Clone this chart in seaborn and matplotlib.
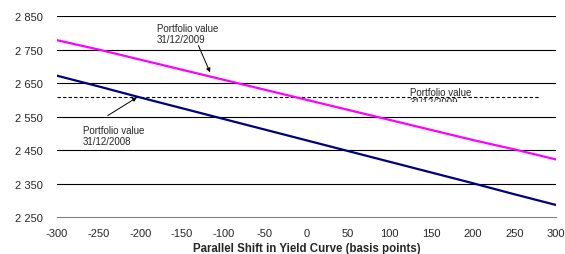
import numpy as np
import pandas as pd
import matplotlib
matplotlib.use('Agg')
import matplotlib.pyplot as plt
import matplotlib.patches as mpatches
import seaborn as sns

# Parallel shift (bp) and portfolio values
shift_bp = [-300, -250, -200, -150, -100, -50, 0, 50, 100, 150, 200, 250, 300]
value_2009 = [2778, 2750, 2720, 2690, 2660, 2630, 2600, 2570, 2540, 2510, 2480, 2452, 2422]
value_2008 = [2672, 2640, 2607, 2575, 2543, 2511, 2479, 2447, 2415, 2383, 2351, 2318, 2286]
ref_value = 2607
y_ticks = [2250, 2350, 2450, 2550, 2650, 2750, 2850]
x_ticks = [-300, -250, -200, -150, -100, -50, 0, 50, 100, 150, 200, 250, 300]

df = pd.DataFrame({'shift': shift_bp, 'v2009': value_2009, 'v2008': value_2008})

sns.set_style('white')
plt.rcParams['font.family'] = ['Liberation Sans', 'DejaVu Sans']

fig = plt.figure(figsize=(5.65, 2.55), dpi=100)
ax = fig.add_axes([0.101, 0.145, 0.883, 0.788])

# horizontal gridlines
for yv in y_ticks[1:]:
    ax.axhline(yv, color='black', lw=0.8, zorder=1)

ax.hlines(ref_value, -300, 280, colors='black', linestyles=(0, (3, 2)), lw=0.8, zorder=2)

sns.lineplot(data=df, x='shift', y='v2009', color='#ff00ff', lw=1.6, ax=ax, zorder=3)
sns.lineplot(data=df, x='shift', y='v2008', color='#000080', lw=1.6, ax=ax, zorder=3)

ax.set_xlim(-300, 300)
ax.set_ylim(2250, 2850)
ax.set_xticks(x_ticks)
ax.set_xticklabels([str(v) for v in x_ticks])
ax.set_yticks(y_ticks)
ax.set_yticklabels([f'{v:,}'.replace(',', ' ') for v in y_ticks])
ax.tick_params(axis='x', direction='out', length=3, width=0.8, color='#808080', labelsize=8, pad=5)
ax.tick_params(axis='y', length=0, labelsize=8, pad=10)

for s in ['top', 'right', 'left']:
    ax.spines[s].set_visible(False)
ax.spines['bottom'].set_color('#808080')
ax.spines['bottom'].set_linewidth(0.8)

ax.set_xlabel('Parallel Shift in Yield Curve (basis points)', fontsize=8.3, fontweight='bold', labelpad=3)
ax.set_ylabel('')

# annotations
ax.text(-180, 2830, 'Portfolio value\n31/12/2009', fontsize=7, ha='left', va='top', linespacing=1.1)
ax.annotate('', xy=(-116, 2682), xytext=(-130, 2762),
            arrowprops=dict(arrowstyle='-|>', color='black', lw=0.7, mutation_scale=6,
                            shrinkA=0, shrinkB=0))
ax.text(-269, 2525, 'Portfolio value\n31/12/2008', fontsize=7, ha='left', va='top', linespacing=1.1)
ax.annotate('', xy=(-204, 2607), xytext=(-239, 2553),
            arrowprops=dict(arrowstyle='-|>', color='black', lw=0.7, mutation_scale=6,
                            shrinkA=0, shrinkB=0))
t3 = ax.text(124, 2638, 'Portfolio value\n31/12/2009', fontsize=7, ha='left', va='top',
             linespacing=1.0, zorder=0, clip_on=True)
# second line of this label is partly hidden in the original
clip = mpatches.Rectangle((100, 2594), 200, 100, transform=ax.transData, visible=False)
ax.add_patch(clip)
t3.set_clip_path(clip)

fig.savefig('out.png', dpi=100)
